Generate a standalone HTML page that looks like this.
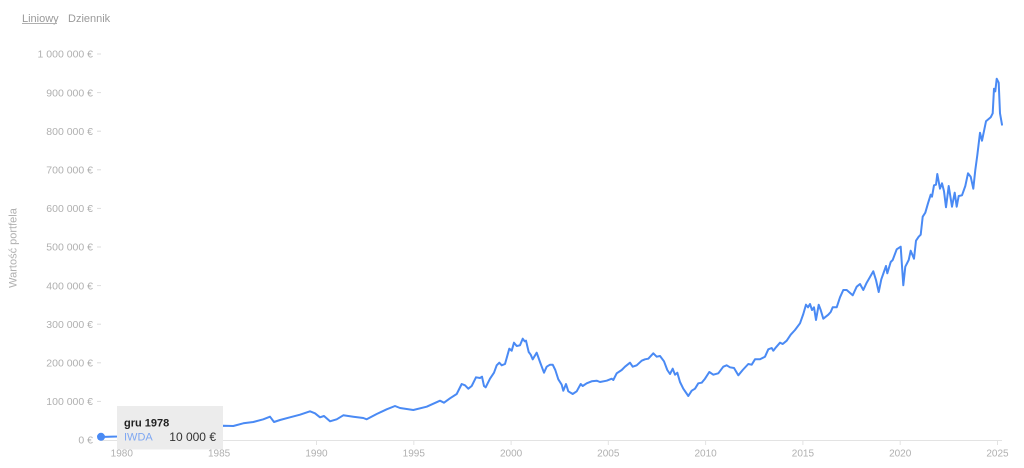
<!DOCTYPE html>
<html>
<head>
<meta charset="utf-8">
<style>
  html,body{margin:0;padding:0;background:#fff;}
  body{width:1024px;height:468px;overflow:hidden;}
  svg{display:block;font-family:"Liberation Sans",Arial,sans-serif;}
</style>
</head>
<body>
<svg width="1024" height="468" viewBox="0 0 1024 468" xmlns="http://www.w3.org/2000/svg">
  <rect width="1024" height="468" fill="#fff"/>

  <!-- top toggles -->
  <text x="22" y="22" font-size="11" fill="#9a9a9a">Liniowy</text>
  <line x1="22" y1="23.5" x2="57" y2="23.5" stroke="#b0b0b0" stroke-width="1"/>
  <text x="68" y="22" font-size="11" fill="#9a9a9a">Dziennik</text>

  <!-- y axis title -->
  <text transform="translate(16.5,248) rotate(-90)" text-anchor="middle" font-size="11" fill="#b0b0b0">Wartość portfela</text>

  <!-- y tick labels -->
  <g font-size="10.5" fill="#b0b0b0" text-anchor="end">
    <text x="93" y="57.7">1 000 000 €</text>
    <text x="93" y="96.3">900 000 €</text>
    <text x="93" y="134.9">800 000 €</text>
    <text x="93" y="173.5">700 000 €</text>
    <text x="93" y="212.1">600 000 €</text>
    <text x="93" y="250.7">500 000 €</text>
    <text x="93" y="289.3">400 000 €</text>
    <text x="93" y="327.9">300 000 €</text>
    <text x="93" y="366.5">200 000 €</text>
    <text x="93" y="405.1">100 000 €</text>
    <text x="93" y="443.7">0 €</text>
  </g>
  <g stroke="#dcdcdc" stroke-width="1">
    <line x1="97" y1="54" x2="101" y2="54"/>
    <line x1="97" y1="92.6" x2="101" y2="92.6"/>
    <line x1="97" y1="131.2" x2="101" y2="131.2"/>
    <line x1="97" y1="169.8" x2="101" y2="169.8"/>
    <line x1="97" y1="208.4" x2="101" y2="208.4"/>
    <line x1="97" y1="247" x2="101" y2="247"/>
    <line x1="97" y1="285.6" x2="101" y2="285.6"/>
    <line x1="97" y1="324.2" x2="101" y2="324.2"/>
    <line x1="97" y1="362.8" x2="101" y2="362.8"/>
    <line x1="97" y1="401.4" x2="101" y2="401.4"/>
  </g>

  <!-- x axis -->
  <line x1="100" y1="440.5" x2="1002" y2="440.5" stroke="#e3e3e3" stroke-width="1"/>
  <g stroke="#e3e3e3" stroke-width="1">
    <line x1="121.8" y1="440" x2="121.8" y2="445"/>
    <line x1="219.1" y1="440" x2="219.1" y2="445"/>
    <line x1="316.5" y1="440" x2="316.5" y2="445"/>
    <line x1="413.8" y1="440" x2="413.8" y2="445"/>
    <line x1="511.1" y1="440" x2="511.1" y2="445"/>
    <line x1="608.3" y1="440" x2="608.3" y2="445"/>
    <line x1="705.6" y1="440" x2="705.6" y2="445"/>
    <line x1="802.9" y1="440" x2="802.9" y2="445"/>
    <line x1="900.2" y1="440" x2="900.2" y2="445"/>
    <line x1="997.5" y1="440" x2="997.5" y2="445"/>
  </g>
  <g font-size="10" fill="#b0b0b0" text-anchor="middle">
    <text x="121.8" y="456.5">1980</text>
    <text x="219.1" y="456.5">1985</text>
    <text x="316.5" y="456.5">1990</text>
    <text x="413.8" y="456.5">1995</text>
    <text x="511.1" y="456.5">2000</text>
    <text x="608.3" y="456.5">2005</text>
    <text x="705.6" y="456.5">2010</text>
    <text x="802.9" y="456.5">2015</text>
    <text x="900.2" y="456.5">2020</text>
    <text x="997.5" y="456.5">2025</text>
  </g>

  <!-- series -->
  <path fill="none" stroke="#4a8af4" stroke-width="2" stroke-linejoin="round" stroke-linecap="round" d="
  M100,437 L117,436.5 L140,434.5 L160,433 L180,431 L200,429 L215,427
  L223.3,425.7 L233.3,426 L243.3,423.3 L253.3,422 L263.3,419.3 L270,416.7 L274,422 L280,420
  L290,417.3 L300,414.7 L310,411.3 L315,413.3 L320,417.3 L324,416 L330,421.3 L336.7,419.3
  L343.3,415.3 L353.3,416.7 L363.3,418 L366.7,419.3 L376.7,414 L386.7,409.3 L395,406 L400,408
  L413.3,410 L426.7,406.7 L440,400.7 L444,402.7 L450,398.3 L456.7,394
  L461.7,384 L465,385.3 L468.3,388.7 L471.7,386 L476,377.3 L480,378 L482,376.7 L484,386
  L485.7,387.3 L490,378.7 L494,372.7 L496.7,365.3 L499.3,362.7 L501.7,365.3 L505,364
  L509.3,348.7 L511.7,350.7 L514,342.7 L516.7,346 L520,345.3 L522.7,338.7 L524.7,341.3
  L526,340.7 L528.7,352 L530.7,354.7 L532.7,359.3 L536.7,352.7 L540,362 L544,372.7
  L546.7,366.7 L550,364.7 L552.7,364.7 L555.3,370 L558.3,379.3 L561.7,384.7 L563.3,390.7
  L566,384 L568.3,391.3 L572.7,394 L576.7,391.3 L580.7,384 L582.7,386 L586.7,383.3
  L591.7,381.3 L596.7,380.7 L600,382 L606.7,380.7 L611.7,378.7 L613.3,380 L616.7,373.3
  L621.7,370 L625,366.7 L630,362.7 L632.7,366.7 L636.7,365.3 L641.7,360.7 L645,359.3
  L648.3,358.7 L653.3,353.3 L656.7,356.7 L660,356
  L664,361.3 L667.3,370 L670,374 L672.7,368.7 L675,374.7 L677.3,372.7 L680,382 L683.3,388.7
  L688.3,396 L691.7,390.7 L695,388.7 L698.3,383.3 L701.7,382.7 L705,378.7 L709.3,372
  L713.3,374.7 L718.3,373.3 L723.3,366.7 L726.7,365.3 L730,367.3 L734,368 L738.3,375.3
  L742.7,370 L748.3,364 L751.7,364.7 L755,359.3 L760,359.3 L765,356.7 L768.3,349.3
  L771.7,348 L773.3,350.7 L776,347.3 L780,342.7 L782.7,344 L786.7,340.7 L790.7,334.7
  L795,330 L800,323.3 L803.3,314 L806,304.7 L808,307.3 L810,304 L812,310 L814,307.3
  L816,320 L818.7,304.7 L820.7,310 L823.3,318.7 L828.3,314.7 L830.7,312 L832.7,307.3
  L836.7,307.3 L840,297.3 L843.3,290 L846.7,290 L852.7,295.3 L856.7,286.7
  L860,284 L863.3,290 L866.7,282.7 L873.3,271.3 L876,280 L878.7,292 L881.3,279.3 L886,266
  L887.3,273.3 L890.7,262 L892.7,260 L896.7,249.3 L900.7,246.7 L903.3,285.3 L905.3,266.7
  L908.7,260 L910.7,250.7 L914,258.7 L916,240.7 L918.7,236.7 L920.7,234.7 L922.7,216.7
  L925.3,212.7 L928,203.3 L930.7,194.7 L932,196.7 L934,185.3 L936,184.7 L937.3,174
  L940,188.7 L942,183.3 L944,191.3 L946,207.3 L948.7,186 L952,206.7 L954.7,192.7
  L956.7,206.7 L958.7,196 L962,195.3 L965.3,186 L968,173.3 L970.7,176.7 L973.3,188.7
  L975.3,170 L977.3,155.3 L980,132.7 L982,140.7 L986,121.3 L990.7,117.3 L992.7,113.3
  L994,88.7 L995.3,91.3 L996.7,78.7 L998.7,82.7 L1000,113.3 L1002,124.7"/>

  <!-- hover marker -->
  <circle cx="101" cy="436.8" r="4" fill="#4a8af4"/>

  <!-- tooltip -->
  <rect x="117" y="406" width="106" height="43.5" fill="#ececec"/>
  <text x="124" y="426.5" font-size="11" font-weight="bold" fill="#222">gru 1978</text>
  <text x="124" y="440.5" font-size="11" fill="#7ea7f2">IWDA</text>
  <text x="216" y="441" font-size="12" fill="#333" text-anchor="end">10 000 €</text>
</svg>
</body>
</html>
